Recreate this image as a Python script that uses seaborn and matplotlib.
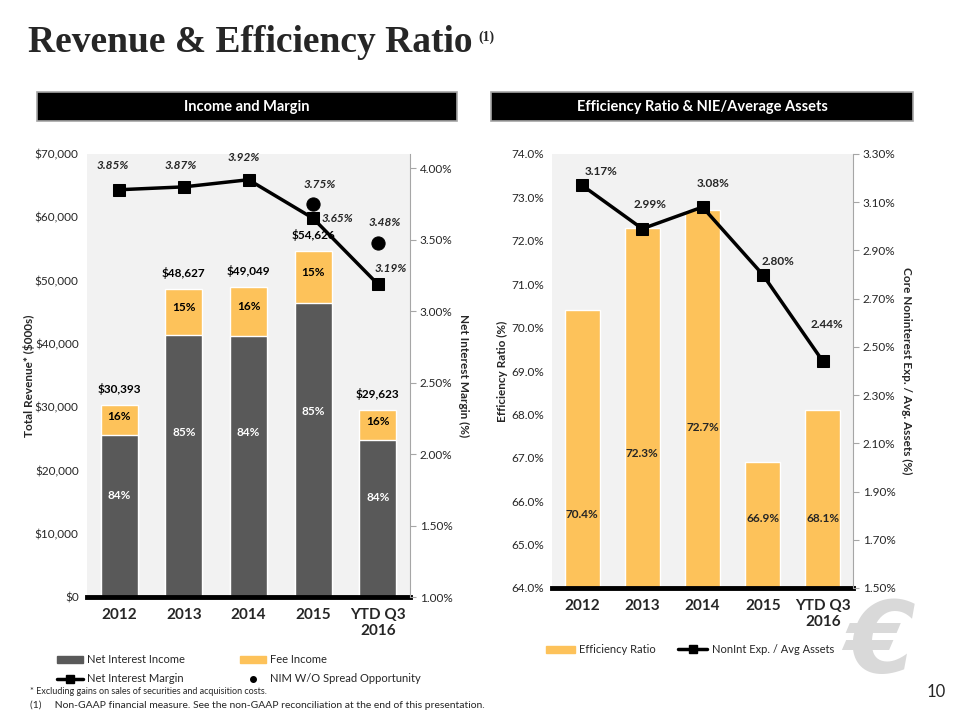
import matplotlib
matplotlib.use("Agg")
import matplotlib.pyplot as plt
import matplotlib.patches as mpatches
from matplotlib.lines import Line2D
from matplotlib.ticker import FuncFormatter, MultipleLocator
import numpy as np
import pandas as pd
import seaborn as sns

# left panel: income and margin
years = ["2012", "2013", "2014", "2015", "YTD Q3\n2016"]
total_revenue = [30393, 48627, 49049, 54626, 29623]
net_interest_income = [25530, 41333, 41201, 46432, 24883]
nii_share = ["84%", "85%", "84%", "85%", "84%"]
fee_share = ["16%", "15%", "16%", "15%", "16%"]
nim = [3.85, 3.87, 3.92, 3.65, 3.19]
nim_wo_spread = [np.nan, np.nan, np.nan, 3.75, 3.48]

# right panel: efficiency ratio and noninterest expense / avg assets
efficiency_ratio = [70.4, 72.3, 72.7, 66.9, 68.1]
nonint_exp_assets = [3.17, 2.99, 3.08, 2.80, 2.44]
exp_ticks = [1.50, 1.70, 1.90, 2.10, 2.30, 2.50, 2.70, 2.90, 3.10, 3.30]

GRAY = "#595959"
ORANGE = "#FDC25A"
BG = "#F2F2F2"
TXT = "#262626"

sns.set_style("white")
plt.rcParams["font.family"] = ["Lato", "DejaVu Sans"]

fig = plt.figure(figsize=(9.6, 7.2), dpi=100)


def fig_box(x0, y0, x1, y1):
    # pixel box -> figure fraction rect
    return [x0 / 960, 1 - y1 / 720, (x1 - x0) / 960, (y1 - y0) / 720]


def style_axes(ax, twin):
    ax.set_facecolor(BG)
    for s in ["top", "left", "right"]:
        ax.spines[s].set_visible(False)
    ax.spines["bottom"].set_color("black")
    ax.spines["bottom"].set_linewidth(3.5)
    ax.tick_params(axis="y", length=0, labelsize=8.5, labelcolor=TXT, pad=6)
    ax.tick_params(axis="x", length=0, labelsize=11, pad=8)
    for lab in ax.get_xticklabels():
        lab.set_fontweight("bold")
    for s in ["top", "left", "bottom"]:
        twin.spines[s].set_visible(False)
    twin.spines["right"].set_color("#A6A6A6")
    twin.tick_params(axis="y", length=4, color="#A6A6A6", labelsize=8.5,
                     labelcolor=TXT, pad=3)


# ---------------- left chart ----------------
ax1 = fig.add_axes(fig_box(87, 154, 410, 597))
df_left = pd.DataFrame({"year": years, "total": total_revenue,
                        "nii": net_interest_income})
sns.barplot(data=df_left, x="year", y="total", color=ORANGE, saturation=1,
            width=0.57, errorbar=None, ax=ax1)
sns.barplot(data=df_left, x="year", y="nii", color=GRAY, saturation=1,
            width=0.57, errorbar=None, ax=ax1)
ax1.set_xlim(-0.5, 4.5)
ax1.set_ylim(0, 70000)
ax1.yaxis.set_major_locator(MultipleLocator(10000))
ax1.yaxis.set_major_formatter(FuncFormatter(lambda v, p: f"${v:,.0f}"))
ax1.set_xlabel("")
ax1.set_ylabel("Total Revenue* ($000s)", fontsize=8.5, fontweight="bold",
               labelpad=0)

ax2 = ax1.twinx()
ax2.set_ylim(1.0, 4.1)
ax2.yaxis.set_major_locator(MultipleLocator(0.5))
ax2.yaxis.set_major_formatter(FuncFormatter(lambda v, p: f"{v:.2f}%"))
ax2.set_ylabel("Net Interest Margin (%)", fontsize=8.5, fontweight="bold",
               rotation=270, labelpad=12)
style_axes(ax1, ax2)

xs = np.arange(len(years))
sns.lineplot(x=xs, y=nim, ax=ax2, color="black", linewidth=2.5, marker="s",
             markersize=9, markeredgecolor="black")
sns.scatterplot(x=xs, y=nim_wo_spread, ax=ax2, color="black", s=90,
                edgecolor="black")

for i, (tot, nii) in enumerate(zip(total_revenue, net_interest_income)):
    ax1.annotate(f"${tot:,.0f}", (i, tot), xytext=(0, 16),
                 textcoords="offset pixels", ha="center", va="center",
                 fontsize=8.5, fontweight="bold", color="black")
    ax1.text(i, nii + (tot - nii) * 0.6, fee_share[i], ha="center",
             va="center", fontsize=8.5, fontweight="bold", color="black")
    ax1.text(i, nii * 0.63, nii_share[i], ha="center", va="center",
             fontsize=8.5, fontweight="bold", color="white")

nim_offsets = [(-7, 24), (-3, 21), (-5, 22), (24, 0), (13, 16)]
for i, v in enumerate(nim):
    ax2.annotate(f"{v:.2f}%", (i, v), xytext=nim_offsets[i],
                 textcoords="offset pixels", ha="center", va="center",
                 fontsize=8.5, fontweight="bold", fontstyle="italic")
for i, v in enumerate(nim_wo_spread):
    if not np.isnan(v):
        ax2.annotate(f"{v:.2f}%", (i, v), xytext=(7, 20),
                     textcoords="offset pixels", ha="center", va="center",
                     fontsize=8.5, fontweight="bold", fontstyle="italic")

# ---------------- right chart ----------------
ax3 = fig.add_axes(fig_box(552, 154, 853, 588))
df_right = pd.DataFrame({"year": years, "eff": efficiency_ratio})
sns.barplot(data=df_right, x="year", y="eff", color=ORANGE, saturation=1,
            width=0.58, errorbar=None, ax=ax3)
ax3.set_xlim(-0.5, 4.5)
ax3.set_ylim(64, 74)
ax3.yaxis.set_major_locator(MultipleLocator(1))
ax3.yaxis.set_major_formatter(FuncFormatter(lambda v, p: f"{v:.1f}%"))
ax3.set_xlabel("")
ax3.set_ylabel("Efficiency Ratio (%)", fontsize=8.5, fontweight="bold",
               labelpad=2)

ax4 = ax3.twinx()
ax4.set_ylim(exp_ticks[0], exp_ticks[-1])
ax4.set_yticks(exp_ticks)
ax4.yaxis.set_major_formatter(FuncFormatter(lambda v, p: f"{v:.2f}%"))
ax4.set_ylabel("Core Noninterest Exp. / Avg. Assets (%)", fontsize=8.5,
               fontweight="bold", rotation=270, labelpad=12)
style_axes(ax3, ax4)

sns.lineplot(x=xs, y=nonint_exp_assets, ax=ax4, color="black", linewidth=2.5,
             marker="s", markersize=9, markeredgecolor="black")

eff_label_y = [65.7, 67.1, 67.7, 65.6, 65.6]
for i, v in enumerate(efficiency_ratio):
    ax3.text(i, eff_label_y[i], f"{v:.1f}%", ha="center", va="center",
             fontsize=8.5, fontweight="bold", color=TXT)

exp_offsets = [(19, 14), (8, 24), (11, 24), (15, 13), (4, 37)]
for i, v in enumerate(nonint_exp_assets):
    ax4.annotate(f"{v:.2f}%", (i, v), xytext=exp_offsets[i],
                 textcoords="offset pixels", ha="center", va="center",
                 fontsize=8.5, fontweight="bold")

# ---------------- legends ----------------
sq_line = dict(color="black", linewidth=2.5, marker="s", markersize=6)
left_handles = [
    mpatches.Patch(color=GRAY),
    Line2D([], [], **sq_line),
    mpatches.Patch(color=ORANGE),
    Line2D([], [], color="black", linestyle="", marker="o", markersize=4),
]
left_labels = ["Net Interest Income", "Net Interest Margin", "Fee Income",
               "NIM W/O Spread Opportunity"]
fig.legend(left_handles, left_labels, ncol=2, loc="upper left",
           bbox_to_anchor=(47 / 960, 1 - 644 / 720), frameon=False,
           fontsize=8, handlelength=2.3, handleheight=0.6,
           columnspacing=5.0, labelspacing=0.75, handletextpad=0.4)

right_handles = [mpatches.Patch(color=ORANGE), Line2D([], [], **sq_line)]
right_labels = ["Efficiency Ratio", "NonInt Exp. / Avg Assets"]
fig.legend(right_handles, right_labels, ncol=2, loc="upper left",
           bbox_to_anchor=(536 / 960, 1 - 634 / 720), frameon=False,
           fontsize=8, handlelength=2.6, handleheight=0.6,
           columnspacing=2.0, handletextpad=0.4)

# ---------------- page furniture ----------------
fig.text(28 / 960, 1 - 43 / 720, "Revenue & Efficiency Ratio",
         family=["Liberation Serif"], fontweight="bold", fontsize=27,
         va="center", ha="left")
fig.text(478 / 960, 1 - 37 / 720, "(1)", family=["Liberation Serif"],
         fontweight="bold", fontsize=10, va="center", ha="left")

for (x0, x1), label in [((37, 457), "Income and Margin"),
                        ((491, 913), "Efficiency Ratio & NIE/Average Assets")]:
    fig.patches.append(mpatches.Rectangle(
        (x0 / 960, 1 - 121 / 720), (x1 - x0) / 960, 29 / 720,
        transform=fig.transFigure, facecolor="black", edgecolor="#A6A6A6",
        linewidth=1.2))
    fig.text((x0 + x1) / 2 / 960, 1 - 107 / 720, label, color="white",
             fontweight="bold", fontsize=10.5, ha="center", va="center")

fig.text(30 / 960, 1 - 691 / 720,
         "* Excluding gains on sales of securities and acquisition costs.",
         fontsize=6.5, color=TXT, va="center")
fig.text(30 / 960, 1 - 705 / 720,
         "(1)     Non-GAAP financial measure. See the non-GAAP reconciliation "
         "at the end of this presentation.",
         fontsize=7.5, color=TXT, va="center")
fig.text(880 / 960, 1 - 645 / 720, "€", fontsize=72, color="#D9D9D9",
         fontstyle="italic", fontweight="bold", ha="center", va="center",
         family=["DejaVu Sans"], zorder=0)
fig.text(946 / 960, 1 - 692 / 720, "10", fontsize=12, color=TXT,
         ha="right", va="center")

fig.savefig("out.png", dpi=100)
